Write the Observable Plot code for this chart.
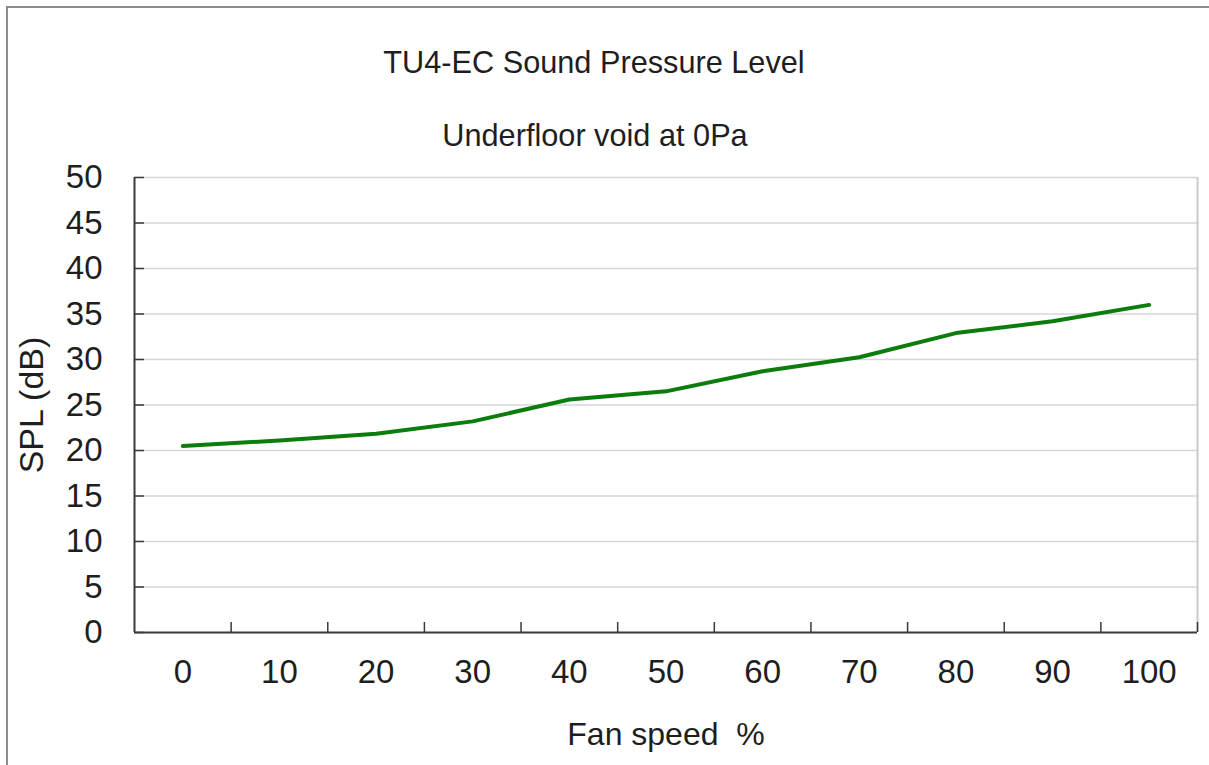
<!DOCTYPE html>
<html>
<head>
<meta charset="utf-8">
<script src="https://cdn.jsdelivr.net/npm/d3@7"></script>
<script src="https://cdn.jsdelivr.net/npm/@observablehq/plot@0.6"></script>
<style>
  html, body { margin: 0; padding: 0; background: #fff; }
  #wrap { position: relative; width: 1209px; height: 765px; overflow: hidden; background: #fff;
          font-family: "Liberation Sans", Arial, sans-serif; color: #1e1e1e; }
  #border { position: absolute; left: 6px; top: 6px; width: 1400px; height: 1000px;
            border-left: 2px solid #8c8c8c; border-top: 2px solid #8c8c8c; }
  .ttl { position: absolute; font-size: 30.7px; line-height: 30px; white-space: nowrap;
         transform: translateX(-50%); z-index: 2; }
  #chart { position: absolute; left: 0; top: 150px; }
  #chart svg text { white-space: pre; }
</style>
</head>
<body>
<div id="wrap">
  <div id="border"></div>
  <div class="ttl" style="left:594px; top:48px;">TU4-EC Sound Pressure Level</div>
  <div class="ttl" style="left:595px; top:121px;">Underfloor void at 0Pa</div>
  <div id="chart"></div>
</div>
<script>
// Data
const fanSpeed = [0, 10, 20, 30, 40, 50, 60, 70, 80, 90, 100];
const spl = [20.5, 21.1, 21.85, 23.2, 25.6, 26.5, 28.7, 30.25, 32.9, 34.2, 36.0];
// Axis definitions
const xDomain = [-5, 105];
const xTickBounds = [5, 15, 25, 35, 45, 55, 65, 75, 85, 95, 105];
const yTicks = [0, 5, 10, 15, 20, 25, 30, 35, 40, 45, 50];
const yGrid = [5, 10, 15, 20, 25, 30, 35, 40, 45, 50];
const xTitle = "Fan speed  %";
const yTitle = "SPL (dB)";

const data = fanSpeed.map((f, i) => ({f, v: spl[i]}));

const axisColor = "#3a3a3a";
const gridColor = "#d6d6d6";

const chart = Plot.plot({
  width: 1209,
  height: 615,
  marginLeft: 134,
  marginRight: 12,
  marginTop: 27,
  marginBottom: 133,
  style: {fontFamily: "'Liberation Sans', Arial, sans-serif", fontSize: "33px", color: "#1e1e1e", background: "transparent"},
  x: {type: "linear", domain: xDomain, label: null},
  y: {type: "linear", domain: [0, 50], label: null},
  marks: [
    Plot.gridY(yGrid, {stroke: gridColor, strokeOpacity: 1, strokeWidth: 1.5}),
    Plot.ruleX([xDomain[1]], {stroke: "#c9c9c9", strokeWidth: 2}),
    // y labels
    Plot.axisY(yTicks, {tickSize: 0, tickPadding: 32, fontSize: 33, fill: "#1e1e1e", label: null}),
    // y tick marks (inward)
    Plot.axisY(yTicks, {tickSize: 10, dx: 10, stroke: axisColor, strokeWidth: 1.5, tickFormat: () => "", label: null}),
    // x labels
    Plot.axisX(fanSpeed, {tickSize: 0, tickPadding: 27, fontSize: 33, fill: "#1e1e1e", label: null}),
    // x tick marks at category boundaries (inward)
    Plot.axisX(xTickBounds, {tickSize: 10, dy: -10, stroke: axisColor, strokeWidth: 1.5, tickFormat: () => "", label: null}),
    Plot.ruleY([0], {stroke: axisColor, strokeWidth: 2}),
    Plot.ruleX([xDomain[0]], {stroke: axisColor, strokeWidth: 2}),
    Plot.line(data, {x: "f", y: "v", stroke: "#0c7c0c", strokeWidth: 4, strokeLinejoin: "round", strokeLinecap: "round"}),
    Plot.text([xTitle], {text: d => d, frameAnchor: "bottom", lineAnchor: "middle", textAnchor: "middle", dy: 102, fontSize: 32, fill: "#1e1e1e"}),
    Plot.text([yTitle], {text: d => d, frameAnchor: "left", lineAnchor: "middle", textAnchor: "middle", rotate: -90, dx: -102, fontSize: 34, fill: "#1e1e1e"})
  ]
});
document.getElementById("chart").appendChild(chart);
</script>
</body>
</html>
